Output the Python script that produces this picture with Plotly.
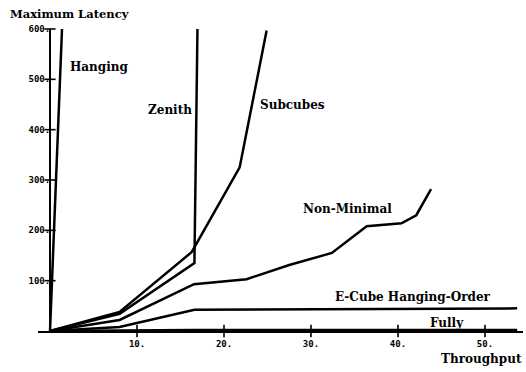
import plotly.graph_objects as go

# Throughput / maximum-latency curves for each routing scheme
hanging_x = [0.0, 1.38]
hanging_y = [0, 600]

zenith_x = [0.0, 8.0, 16.6, 16.95]
zenith_y = [0, 34, 135, 600]

subcubes_x = [0.0, 8.0, 16.3, 21.8, 24.9]
subcubes_y = [0, 38, 157, 325, 597]

nonmin_x = [0.0, 8.0, 16.55, 22.6, 27.5, 32.4, 36.4, 40.4, 42.1, 43.8]
nonmin_y = [0, 22, 93, 103, 131, 155, 208, 214, 230, 282]

ecube_x = [0.0, 8.0, 16.6, 35.0, 53.7]
ecube_y = [0, 8, 42, 44, 45]

fully_x = [0.0, 8.0, 16.6, 53.7]
fully_y = [0, 1, 2, 2]

x_ticks = [10, 20, 30, 40, 50]
x_tick_labels = ["10.", "20.", "30.", "40.", "50."]
y_ticks = [100, 200, 300, 400, 500, 600]
y_tick_labels = ["100.", "200.", "300.", "400.", "500.", "600."]

series = [
    ("Hanging", hanging_x, hanging_y),
    ("Zenith", zenith_x, zenith_y),
    ("Subcubes", subcubes_x, subcubes_y),
    ("Non-Minimal", nonmin_x, nonmin_y),
    ("E-Cube Hanging-Order", ecube_x, ecube_y),
    ("Fully", fully_x, fully_y),
]

# label anchor (left edge, vertical middle) in data units
label_pos = {
    "Hanging": (2.07, 524),
    "Zenith": (11.0, 439),
    "Subcubes": (23.9, 449),
    "Non-Minimal": (28.8, 242),
    "E-Cube Hanging-Order": (32.5, 67),
    "Fully": (43.45, 16),
}

LABEL_FONT = dict(family="DejaVu Serif", size=12, color="black", weight="bold")
TICK_FONT = dict(family="DejaVu Sans Mono", size=9, color="black", weight="bold")

fig = go.Figure()
for name, xs, ys in series:
    fig.add_trace(go.Scatter(x=xs, y=ys, mode="lines", name=name,
                             line=dict(color="black", width=2.5),
                             showlegend=False, hoverinfo="skip"))

# tick crosses straddling each axis
fig.add_trace(go.Scatter(x=x_ticks, y=[0] * len(x_ticks), mode="markers",
                         marker=dict(symbol="line-ns", size=9,
                                     line=dict(color="black", width=1.6)),
                         cliponaxis=False, showlegend=False, hoverinfo="skip"))
fig.add_trace(go.Scatter(x=[0] * len(y_ticks), y=y_ticks, mode="markers",
                         marker=dict(symbol="line-ew", size=8,
                                     line=dict(color="black", width=1.6)),
                         cliponaxis=False, showlegend=False, hoverinfo="skip"))

for name, (lx, ly) in label_pos.items():
    fig.add_annotation(x=lx, y=ly, xref="x", yref="y", text=name,
                       showarrow=False, xanchor="left", yanchor="middle",
                       font=LABEL_FONT)

fig.add_annotation(x=-0.062, y=1.05, xref="paper", yref="paper",
                   text="Maximum Latency", showarrow=False,
                   xanchor="left", yanchor="middle",
                   font=dict(LABEL_FONT, size=11.5))
fig.add_annotation(x=0.826, y=-0.093, xref="paper", yref="paper",
                   text="Throughput", showarrow=False,
                   xanchor="left", yanchor="middle", font=LABEL_FONT)

fig.update_layout(
    width=526, height=372,
    margin=dict(l=38, r=3, t=29, b=41),
    paper_bgcolor="white", plot_bgcolor="white",
    xaxis=dict(range=[-1.38, 54.37], showgrid=False, zeroline=False,
               showline=True, linecolor="black", linewidth=2,
               tickvals=x_ticks, ticktext=x_tick_labels,
               ticks="outside", ticklen=3, tickcolor="rgba(0,0,0,0)",
               tickfont=TICK_FONT),
    yaxis=dict(range=[0, 600], showgrid=False, zeroline=False,
               anchor="free", position=12 / 485,
               showline=True, linecolor="black", linewidth=2,
               tickvals=y_ticks, ticktext=y_tick_labels,
               ticks="", ticklabelstandoff=-3,
               tickfont=TICK_FONT),
)

fig.write_html("out.html")
